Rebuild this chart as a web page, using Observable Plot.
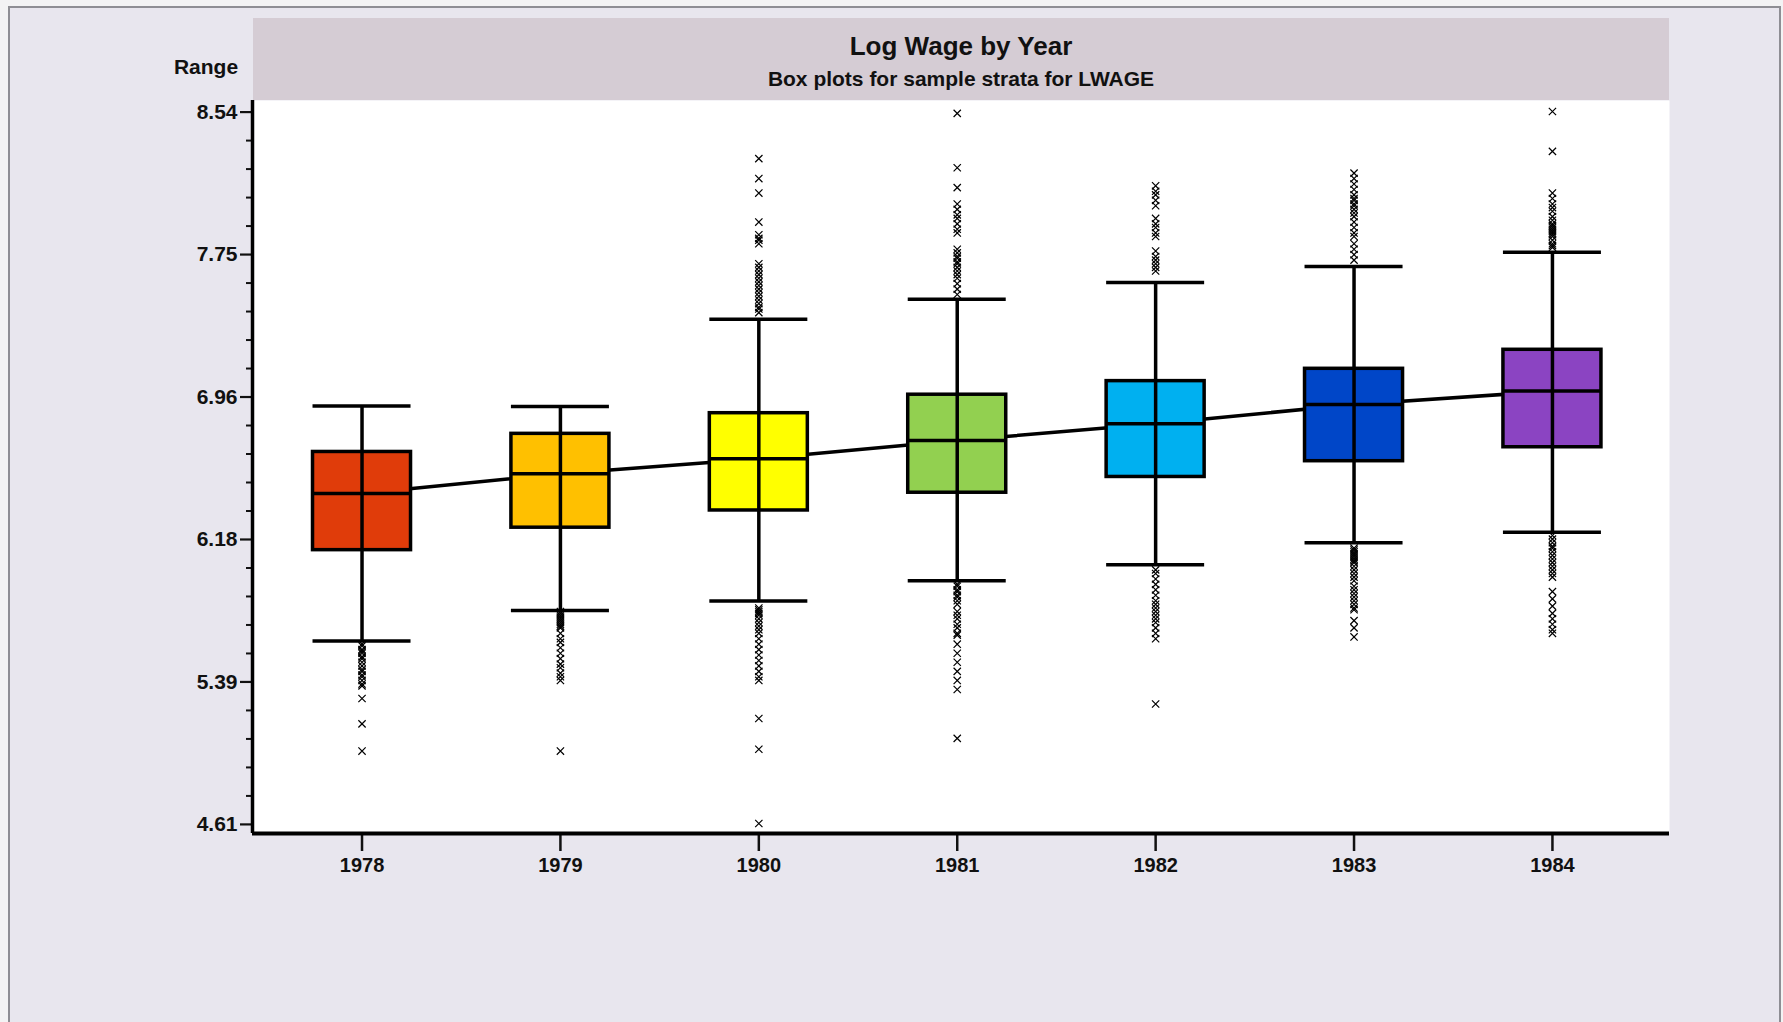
<!DOCTYPE html>
<html>
<head>
<meta charset="utf-8">
<script src="https://cdn.jsdelivr.net/npm/d3@7"></script>
<script src="https://cdn.jsdelivr.net/npm/@observablehq/plot@0.6"></script>
<style>
  html, body { margin: 0; padding: 0; background: #f3f3f4; }
  #page { position: relative; width: 1783px; height: 1022px; overflow: hidden;
          font-family: "Liberation Sans", Arial, sans-serif; color: #111; }
  #panel { position: absolute; left: 8px; top: 6px; width: 1773px; height: 1040px;
           background: #e8e6ee; border: 2px solid #8e8e94; box-sizing: border-box; }
  #band { position: absolute; left: 253px; top: 18px; width: 1416px; height: 82px;
          background: #d5ccd4; }
  #title { position: absolute; left: 0; right: 0; top: 13px; text-align: center;
           font-weight: bold; font-size: 26px; line-height: 30px; }
  #subtitle { position: absolute; left: 0; right: 0; top: 49px; text-align: center;
              font-weight: bold; font-size: 21px; line-height: 24px; }
  #ylabel { position: absolute; left: 150px; width: 112px; top: 54px; text-align: center;
            font-weight: bold; font-size: 21px; line-height: 26px; }
  #chart { position: absolute; left: 0; top: 0; }
</style>
</head>
<body>
<div id="page">
  <div id="panel"></div>
  <div id="chart"></div>
  <div id="band">
    <div id="title">Log Wage by Year</div>
    <div id="subtitle">Box plots for sample strata for LWAGE</div>
  </div>
  <div id="ylabel">Range</div>
</div>
<script>
// Strata (years) and box-plot statistics of LWAGE
const years     = [1978, 1979, 1980, 1981, 1982, 1983, 1984];
const lowerWhisk = [5.618, 5.786, 5.838, 5.950, 6.038, 6.160, 6.218];
const q1        = [6.119, 6.243, 6.338, 6.436, 6.523, 6.610, 6.687];
const medians   = [6.432, 6.541, 6.623, 6.724, 6.817, 6.923, 6.997];
const q3        = [6.661, 6.761, 6.875, 6.977, 7.052, 7.120, 7.225];
const upperWhisk = [6.915, 6.912, 7.394, 7.504, 7.596, 7.685, 7.764];
const boxColors = ["#e03c0a", "#ffc000", "#ffff00", "#92d050", "#00b0f0", "#0046c8", "#8b44c2"];

// Values beyond the whiskers, one list per year
const out1978 = [5.60, 5.59, 5.57, 5.56, 5.55, 5.53, 5.52, 5.50, 5.48, 5.46, 5.45, 5.43, 5.42, 5.40, 5.38, 5.37,
                 5.30, 5.16, 5.01];
const out1979 = [5.78, 5.77, 5.76, 5.75, 5.74, 5.73, 5.72, 5.71, 5.70, 5.69, 5.66, 5.63, 5.61, 5.58, 5.55, 5.52,
                 5.49, 5.47, 5.44, 5.42, 5.40, 5.01];
const out1980 = [8.28, 8.17, 8.09, 7.93, 7.86, 7.84, 7.83, 7.81, 7.70, 7.68, 7.66, 7.64, 7.62, 7.60, 7.58, 7.56,
                 7.54, 7.52, 7.50, 7.48, 7.46, 7.45, 7.43,
                 5.80, 5.79, 5.78, 5.77, 5.76, 5.74, 5.72, 5.70, 5.68, 5.66, 5.63, 5.60, 5.57, 5.54, 5.51, 5.48,
                 5.45, 5.42, 5.40, 5.19, 5.02, 4.61];
const out1981 = [8.53, 8.23, 8.12, 8.03, 8.00, 7.97, 7.95, 7.92, 7.89, 7.87, 7.78, 7.76, 7.74, 7.73, 7.71, 7.70,
                 7.68, 7.66, 7.64, 7.62, 7.59, 7.56, 7.53,
                 5.93, 5.92, 5.90, 5.89, 5.87, 5.86, 5.84, 5.82, 5.78, 5.76, 5.74, 5.71, 5.69, 5.66, 5.65,
                 5.60, 5.55, 5.50, 5.45, 5.40, 5.35, 5.08];
const out1982 = [8.13, 8.10, 8.08, 8.05, 8.02, 7.95, 7.92, 7.90, 7.87, 7.85, 7.77, 7.74, 7.72, 7.70, 7.68, 7.66,
                 6.01, 5.99, 5.96, 5.93, 5.90, 5.87, 5.84, 5.82, 5.80, 5.78, 5.76, 5.74, 5.72, 5.69, 5.66, 5.63,
                 5.27];
const out1983 = [8.20, 8.17, 8.14, 8.11, 8.08, 8.06, 8.05, 8.03, 8.02, 8.00, 7.98, 7.96, 7.93, 7.90, 7.87, 7.85,
                 7.81, 7.78, 7.75, 7.72,
                 6.13, 6.12, 6.11, 6.10, 6.09, 6.08, 6.07, 6.06, 6.05, 6.03, 6.01, 5.99, 5.97, 5.95, 5.92, 5.90,
                 5.88, 5.86, 5.84, 5.82, 5.80, 5.79, 5.73, 5.69, 5.64];
const out1984 = [8.54, 8.32, 8.09, 8.06, 8.03, 8.01, 7.99, 7.96, 7.94, 7.92, 7.91, 7.90, 7.89, 7.88, 7.87, 7.86,
                 7.85, 7.83, 7.81, 7.80, 7.79,
                 6.20, 6.18, 6.16, 6.14, 6.13, 6.11, 6.09, 6.07, 6.05, 6.03, 6.01, 5.99, 5.97,
                 5.89, 5.85, 5.81, 5.77, 5.74, 5.71, 5.68, 5.66];
const outliersByYear = [out1978, out1979, out1980, out1981, out1982, out1983, out1984];

// Range axis: ticks at the sample minimum, maximum and four evenly spaced steps between
const yTickValues = [4.60517, 5.39154, 6.17790, 6.96427, 7.75063, 8.53700];
const yTickLabels = ["4.61", "5.39", "6.18", "6.96", "7.75", "8.54"];

const boxes = years.map((year, i) => ({
  year, lo: lowerWhisk[i], q1: q1[i], median: medians[i], q3: q3[i], hi: upperWhisk[i], color: boxColors[i]
}));
const outliers = years.flatMap((year, i) => outliersByYear[i].map(v => ({year, v})));

// four minor ticks inside each major interval
const minorTicks = d3.pairs(yTickValues).flatMap(([a, b]) => d3.range(1, 5).map(k => a + (b - a) * k / 5));

const half = 0.247;          // half box width, in years
const xDomain = [1977.448, 1984.59];
const yDomain = [4.555, 8.601];
const ink = "#000";

const chart = Plot.plot({
  width: 1783,
  height: 1022,
  marginLeft: 252,
  marginRight: 114,
  marginTop: 100,
  marginBottom: 189,
  style: {background: "transparent", fontFamily: "'Liberation Sans', Arial, sans-serif", color: "#111", overflow: "visible"},
  x: {domain: xDomain},
  y: {domain: yDomain},
  marks: [
    Plot.frame({fill: "white", stroke: null}),
    // line through the medians, behind the boxes
    Plot.line(boxes, {x: "year", y: "median", stroke: ink, strokeWidth: 3.5}),
    Plot.rect(boxes, {x1: d => d.year - half, x2: d => d.year + half, y1: "q1", y2: "q3",
                      fill: "color", stroke: ink, strokeWidth: 3.5}),
    Plot.ruleX(boxes, {x: "year", y1: "lo", y2: "hi", stroke: ink, strokeWidth: 3.5}),
    Plot.ruleY(boxes, {y: "hi", x1: d => d.year - half, x2: d => d.year + half, stroke: ink, strokeWidth: 3.5}),
    Plot.ruleY(boxes, {y: "lo", x1: d => d.year - half, x2: d => d.year + half, stroke: ink, strokeWidth: 3.5}),
    Plot.ruleY(boxes, {y: "median", x1: d => d.year - half, x2: d => d.year + half, stroke: ink, strokeWidth: 3.5}),
    Plot.dot(outliers, {x: "year", y: "v", symbol: "times", r: 3.4, stroke: ink, strokeWidth: 1.2}),
    // axes
    Plot.axisY(yTickValues, {tickSize: 12, tickPadding: 3, strokeWidth: 2.2, label: null,
                             tickFormat: (d, i) => yTickLabels[i], fontSize: 21, fontWeight: "bold"}),
    Plot.axisY(minorTicks, {tickSize: 6, strokeWidth: 2, label: null, tickFormat: () => ""}),
    Plot.axisX(years, {tickSize: 18, tickPadding: 6, strokeWidth: 2.5, label: null,
                       tickFormat: d => String(d), fontSize: 20, fontWeight: "bold"}),
    Plot.ruleX([xDomain[0]], {stroke: ink, strokeWidth: 3.5}),
    Plot.ruleY([yDomain[0]], {stroke: ink, strokeWidth: 4})
  ]
});
document.getElementById("chart").appendChild(chart);
</script>
</body>
</html>
